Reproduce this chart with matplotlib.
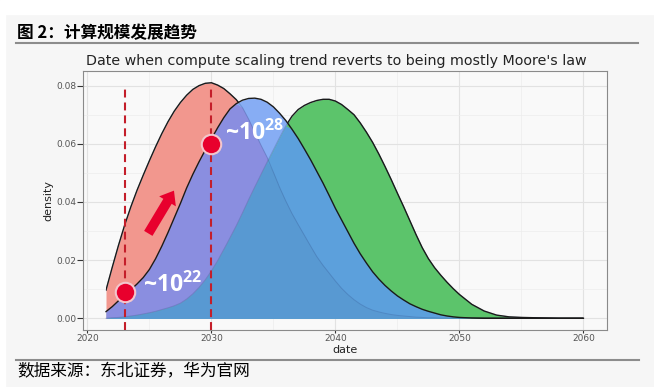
import numpy as np
import matplotlib.pyplot as plt
from matplotlib.patches import Polygon, Rectangle
from matplotlib.lines import Line2D

# density curves: half-year steps to 2050, then yearly
years = [2021.5 + 0.5 * i for i in range(58)] + list(range(2051, 2061))
red = [0.0097, 0.0175, 0.0250, 0.0320, 0.0383, 0.0440, 0.0492, 0.0542, 0.0590, 0.0635,
       0.0676, 0.0712, 0.0742, 0.0767, 0.0787, 0.0800, 0.0808, 0.0810, 0.0802, 0.0790,
       0.0772, 0.0752, 0.0725, 0.0685, 0.0640, 0.0595, 0.0553, 0.0502, 0.0450, 0.0403,
       0.0360, 0.0322, 0.0285, 0.0248, 0.0212, 0.0182, 0.0155, 0.0128, 0.0103, 0.0082,
       0.0064, 0.0049, 0.0037, 0.0028, 0.0022, 0.0017, 0.0013, 0.0010, 0.0008, 0.0006,
       0.0004, 0.0003, 0.0002, 0.0002, 0.0001, 0.0001, 0.0000, 0.0000,
       0, 0, 0, 0, 0, 0, 0, 0, 0, 0]
blue = [0.0023, 0.0040, 0.0060, 0.0080, 0.0098, 0.0118, 0.0140, 0.0168, 0.0205, 0.0248,
        0.0295, 0.0345, 0.0395, 0.0448, 0.0495, 0.0538, 0.0578, 0.0617, 0.0655, 0.0690,
        0.0720, 0.0738, 0.0750, 0.0756, 0.0757, 0.0753, 0.0743, 0.0727, 0.0705, 0.0680,
        0.0650, 0.0618, 0.0582, 0.0545, 0.0505, 0.0465, 0.0422, 0.0378, 0.0338, 0.0298,
        0.0258, 0.0222, 0.0190, 0.0160, 0.0135, 0.0113, 0.0094, 0.0077, 0.0063, 0.0050,
        0.0040, 0.0031, 0.0024, 0.0018, 0.0012, 0.0008, 0.0005, 0.0003,
        0.0001, 0, 0, 0, 0, 0, 0, 0, 0, 0]
green = [0.0000, 0.0002, 0.0003, 0.0005, 0.0008, 0.0011, 0.0015, 0.0019, 0.0024, 0.0030,
         0.0036, 0.0043, 0.0052, 0.0066, 0.0084, 0.0106, 0.0132, 0.0163, 0.0198, 0.0237,
         0.0277, 0.0318, 0.0362, 0.0408, 0.0452, 0.0495, 0.0538, 0.0580, 0.0622, 0.0662,
         0.0695, 0.0718, 0.0732, 0.0742, 0.0749, 0.0753, 0.0753, 0.0747, 0.0735, 0.0718,
         0.0700, 0.0672, 0.0640, 0.0605, 0.0565, 0.0522, 0.0477, 0.0430, 0.0384, 0.0336,
         0.0288, 0.0243, 0.0205, 0.0174, 0.0148, 0.0124, 0.0102, 0.0082,
         0.0048, 0.0025, 0.0011, 0.0005, 0.0003, 0.0002, 0.0001, 0, 0, 0]

# annotations
marker_years = [2023, 2030]
marker_density = [0.009, 0.060]
marker_labels = ['~10$^{22}$', '~10$^{28}$']
label_offsets = [(13, 0), (9.5, 2.5)]
arrow_from = (2024.91, 0.0292)
arrow_to = (2026.98, 0.0439)

xticks = [2020, 2030, 2040, 2050, 2060]
yticks = [0.00, 0.02, 0.04, 0.06, 0.08]

plt.rcParams['mathtext.default'] = 'regular'

x = np.array(years)
r = np.array(red)
b = np.array(blue)
g = np.array(green)

W, H = 654, 387
fig = plt.figure(figsize=(W / 100, H / 100), dpi=100, facecolor='#F6F6F6')
fig.patches.append(Rectangle((0, 1 - 14 / H), 1, 14 / H, transform=fig.transFigure,
                             color='white', zorder=0))
fig.patches.append(Rectangle((0, 0), 5 / W, 1, transform=fig.transFigure,
                             color='white', zorder=0))

ax = fig.add_axes([83 / W, 1 - 330 / H, 524 / W, 259.3 / H])
ax.set_facecolor('#F9F9F9')

# layered fills
salmon, lightblue, purple = '#F2978E', '#87ADF4', '#8A8EE0'
greenc, steel, steel2 = '#5CC46B', '#5CA0DC', '#5899D2'
ax.fill_between(x, 0, r, color=salmon, lw=0, zorder=1)
ax.fill_between(x, 0, b, color=lightblue, lw=0, zorder=1.1)
ax.fill_between(x, 0, np.minimum(r, b), color=purple, lw=0, zorder=1.2)
ax.fill_between(x, 0, g, color=greenc, lw=0, zorder=1.3)
ax.fill_between(x, 0, np.minimum(g, b), color=steel, lw=0, zorder=1.4)
ax.fill_between(x, 0, np.minimum(np.minimum(g, b), r), color=steel2, lw=0, zorder=1.5)

# faint hidden outlines
ax.plot(x, r, color='#3A5F9A', alpha=0.35, lw=0.7, zorder=2)
ax.plot(x, g, color='#3A5F9A', alpha=0.35, lw=0.7, zorder=2)

# black outlines (red/green only where above the blue curve)
above_blue = Polygon(list(zip(x, b)) + [(x[-1], 1), (x[0], 1)], closed=True,
                     transform=ax.transData)
ax.plot(x, b, color='#1A1A1A', lw=1.0, zorder=3)
for vals in (r, g):
    ln, = ax.plot(x, vals, color='#1A1A1A', lw=1.0, zorder=3)
    ln.set_clip_path(above_blue)

ylo, yhi = -0.00402, 0.08514
for yr in marker_years:
    ax.plot([yr, yr], [ylo, 0.08], color='#C41E2A', lw=1.5, dashes=(3.8, 2.4), zorder=4)
ax.plot(marker_years, marker_density, 'o', ms=14, mfc='#E8002D', mec='#F3C6CC',
        mew=1.5, zorder=5)
for xv, yv, lab, off in zip(marker_years, marker_density, marker_labels, label_offsets):
    ax.annotate(lab, (xv, yv), xytext=off, textcoords='offset points',
                ha='left', va='baseline', color='white', fontsize=16.5,
                fontweight='bold', family=['Open Sans', 'DejaVu Sans'], zorder=6)
ax.annotate('', xy=arrow_to, xytext=arrow_from,
            arrowprops=dict(arrowstyle='simple,head_length=0.9,head_width=1.4,tail_width=0.7',
                            mutation_scale=10, fc='#E8002D', ec='none',
                            shrinkA=0, shrinkB=0), zorder=5)

ax.set_xlim(2019.645, 2061.9)
ax.set_ylim(ylo, yhi)
ax.set_xticks(xticks)
ax.set_xticks([2025, 2035, 2045, 2055], minor=True)
ax.set_yticks(yticks)
ax.set_yticklabels(['%.2f' % v for v in yticks])
ax.set_yticks([0.01, 0.03, 0.05, 0.07], minor=True)
ax.set_axisbelow(True)
ax.grid(which='major', color='#E2E2E2', lw=0.8)
ax.grid(which='minor', color='#EDEDED', lw=0.5)
ax.tick_params(which='minor', length=0)
ax.tick_params(axis='x', which='major', length=2, width=0.8, color='#333333',
               labelsize=6.5, labelcolor='#555555', pad=1)
ax.tick_params(axis='y', which='major', length=4, width=0.8, color='#333333',
               labelsize=6.5, labelcolor='#555555', pad=1)
for s in ax.spines.values():
    s.set_color('#8A8A8A')
    s.set_linewidth(0.8)

ax.set_xlabel('date', fontsize=8, color='#222222', labelpad=1.5)
ax.set_ylabel('density', fontsize=8, color='#222222',
              family=['Liberation Sans Narrow', 'DejaVu Sans'])
ax.yaxis.set_label_coords(-0.057, 0.5)

fig.text(336 / W, 1 - 61 / H, "Date when compute scaling trend reverts to being mostly Moore's law",
         ha='center', va='center', fontsize=10.3, color='#222222')

# report header / footer
fig.text(17 / W, 1 - 33 / H, '图 2：计算规模发展趋势', ha='left', va='center',
         fontsize=12, fontweight='bold', family=['Noto Sans CJK SC', 'DejaVu Sans'])
fig.add_artist(Line2D([15.7 / W, 638 / W], [1 - 43.3 / H] * 2, color='#8C8C8C', lw=1.5))
fig.add_artist(Line2D([15.7 / W, 639 / W], [1 - 360 / H] * 2, color='#8C8C8C', lw=1.5))
fig.text(17 / W, 1 - 371.5 / H, '数据来源：东北证券，华为官网', ha='left', va='center',
         fontsize=12, family=['Noto Sans CJK SC', 'DejaVu Sans'])

fig.savefig('out.png', dpi=100, facecolor=fig.get_facecolor())
